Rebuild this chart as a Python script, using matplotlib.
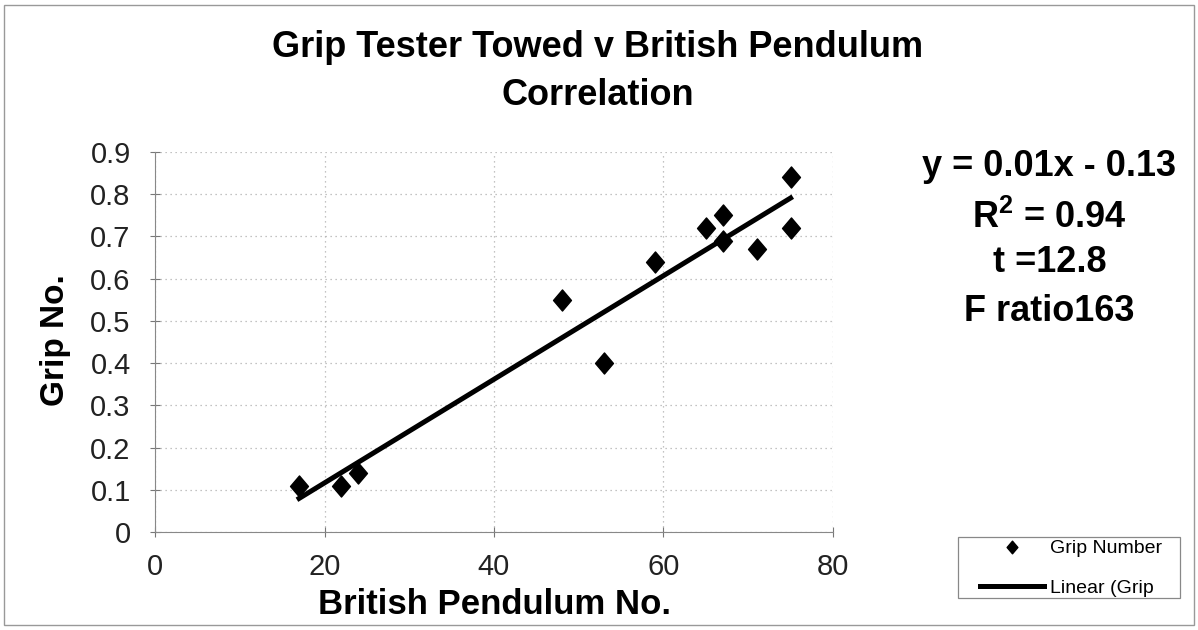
import numpy as np
import matplotlib
matplotlib.use("Agg")
import matplotlib.pyplot as plt
from matplotlib.patches import Rectangle
from matplotlib.path import Path

bp = [17, 22, 24, 48, 53, 59, 65, 67, 67, 71, 75, 75]
grip = [0.11, 0.11, 0.14, 0.55, 0.40, 0.64, 0.72, 0.75, 0.69, 0.67, 0.84, 0.72]
xticks = [0, 20, 40, 60, 80]
yticks = [0, 0.1, 0.2, 0.3, 0.4, 0.5, 0.6, 0.7, 0.8, 0.9]
ylabels = ["0", "0.1", "0.2", "0.3", "0.4", "0.5", "0.6", "0.7", "0.8", "0.9"]
stats = ["y = 0.01x - 0.13", "R$^2$ = 0.94", "t =12.8", "F ratio163"]

plt.rcParams['font.family'] = ['Liberation Sans', 'DejaVu Sans']
plt.rcParams['mathtext.fontset'] = 'custom'
plt.rcParams['mathtext.rm'] = 'Liberation Sans:bold'
plt.rcParams['mathtext.default'] = 'rm'

diamond = Path([(0, 1), (0.85, 0), (0, -1), (-0.85, 0), (0, 1)],
               [Path.MOVETO, Path.LINETO, Path.LINETO, Path.LINETO, Path.CLOSEPOLY])

fig = plt.figure(figsize=(11.98, 6.3), dpi=100)
fig.patches.append(Rectangle((0.003, 0.008), 0.994, 0.984, transform=fig.transFigure,
                             fill=False, edgecolor='#999999', lw=1.0))
ax = fig.add_axes([0.1294, 0.1556, 0.5659, 0.6031])

ax.scatter(bp, grip, marker=diamond, s=230, color='black', zorder=3, label='Grip Number')
coef = np.polyfit(bp, grip, 1)
xs = np.array([min(bp), max(bp)])
ax.plot(xs, np.polyval(coef, xs), color='black', lw=3.6, zorder=2, label='Linear (Grip')

ax.set_xlim(0, 80)
ax.set_ylim(0, 0.9)
ax.set_xticks(xticks)
ax.set_yticks(yticks)
ax.set_yticklabels(ylabels)
ax.tick_params(colors='#777777', labelcolor='#222222', direction='inout', length=7, width=0.8)
ax.tick_params(axis='y', labelsize=21, pad=14)
ax.tick_params(axis='x', labelsize=21, pad=12)
ax.grid(True, color='#b0b0b0', linestyle=(0, (1, 3)), lw=0.9)
for s in ['top', 'right']:
    ax.spines[s].set_visible(False)
for s in ['left', 'bottom']:
    ax.spines[s].set_color('#888888')

fig.text(0.499, 0.925, "Grip Tester Towed v British Pendulum", ha='center', va='center',
         fontsize=26, fontweight='bold')
fig.text(0.499, 0.849, "Correlation", ha='center', va='center', fontsize=26, fontweight='bold')
fig.text(0.046, 0.46, "Grip No.", ha='center', va='center', rotation=90, fontsize=24,
         fontweight='bold')
fig.text(0.413, 0.040, "British Pendulum No.", ha='center', va='center', fontsize=25,
         fontweight='bold')

ys = [0.735, 0.654, 0.583, 0.505]
for t, y in zip(stats, ys):
    fig.text(0.876, y, t, ha='center', va='center', fontsize=26, fontweight='bold')

fig.patches.append(Rectangle((958 / 1198, 1 - 598 / 630), 222 / 1198, 61 / 630,
                             transform=fig.transFigure, fill=False, edgecolor='#888888', lw=0.9))
leg = fig.legend(loc='upper left', bbox_to_anchor=(978 / 1198, 1 - 537 / 630),
                 fontsize=14, frameon=False, borderpad=0.1, borderaxespad=0,
                 labelspacing=1.15, handlelength=3.3, handletextpad=0.3, markerscale=0.6)

fig.savefig("out.png", dpi=100)
